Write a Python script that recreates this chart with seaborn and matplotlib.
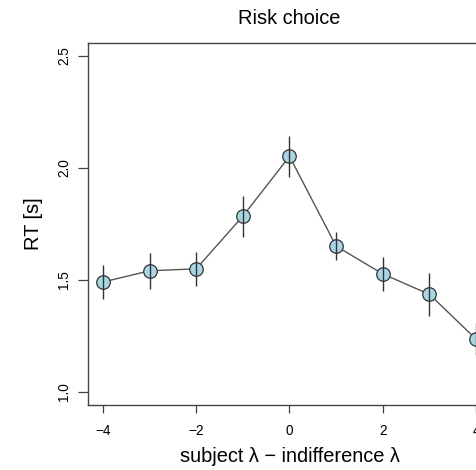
import matplotlib
matplotlib.use("Agg")
import matplotlib.pyplot as plt
import seaborn as sns
import pandas as pd

# Mean response time per lambda difference, with standard errors
lambda_diff = [-4, -3, -2, -1, 0, 1, 2, 3, 4]
rt_mean = [1.491, 1.541, 1.550, 1.785, 2.052, 1.651, 1.527, 1.436, 1.236]
rt_sem = [0.078, 0.081, 0.076, 0.091, 0.091, 0.063, 0.074, 0.095, 0.072]

x_ticks = [-4, -2, 0, 2, 4]
y_ticks = [1.0, 1.5, 2.0, 2.5]

df = pd.DataFrame({"diff": lambda_diff, "rt": rt_mean, "sem": rt_sem})

sns.set_theme(style="ticks")
plt.rcParams["font.family"] = ["Liberation Sans", "DejaVu Sans"]
plt.rcParams["text.color"] = "black"
plt.rcParams["axes.labelcolor"] = "black"
plt.rcParams["xtick.labelcolor"] = "black"
plt.rcParams["ytick.labelcolor"] = "black"

fig = plt.figure(figsize=(4.77, 4.70), dpi=100)
ax = fig.add_axes([88 / 477, 65 / 470, 403 / 477, 362 / 470])

sns.lineplot(data=df, x="diff", y="rt", ax=ax, color="#555555", linewidth=1.0,
             zorder=2, legend=False)
sns.scatterplot(data=df, x="diff", y="rt", ax=ax, s=95, color="#a8d6e4",
                edgecolor="#333333", linewidth=0.9, zorder=3, legend=False)
ax.vlines(df["diff"], df["rt"] - df["sem"], df["rt"] + df["sem"],
          color="#333333", linewidth=1.0, zorder=4)

ax.set_xlim(-4.32, 4.32)
ax.set_ylim(0.942, 2.558)
ax.set_xticks(x_ticks)
ax.set_xticklabels([f"{v:d}".replace("-", "\u2212") for v in x_ticks], fontsize=9.8)
ax.set_yticks(y_ticks)
ax.set_yticklabels([f"{v:.1f}" for v in y_ticks], fontsize=9.8,
                   rotation=90, va="center")

ax.tick_params(axis="x", length=5.5, width=0.9, color="#444444", pad=8)
ax.tick_params(axis="y", length=7, width=0.9, color="#444444", pad=5)

for side in ["left", "bottom", "top", "right"]:
    ax.spines[side].set_color("#444444")
    ax.spines[side].set_linewidth(1.0)

ax.set_title("Risk choice", fontsize=14.4, pad=14, color="black")
ax.set_xlabel("subject \u03bb \u2212 indifference \u03bb", fontsize=14.4, labelpad=7)
ax.set_ylabel("RT [s]", fontsize=14.4, labelpad=10)

fig.savefig("out.png", dpi=100)
